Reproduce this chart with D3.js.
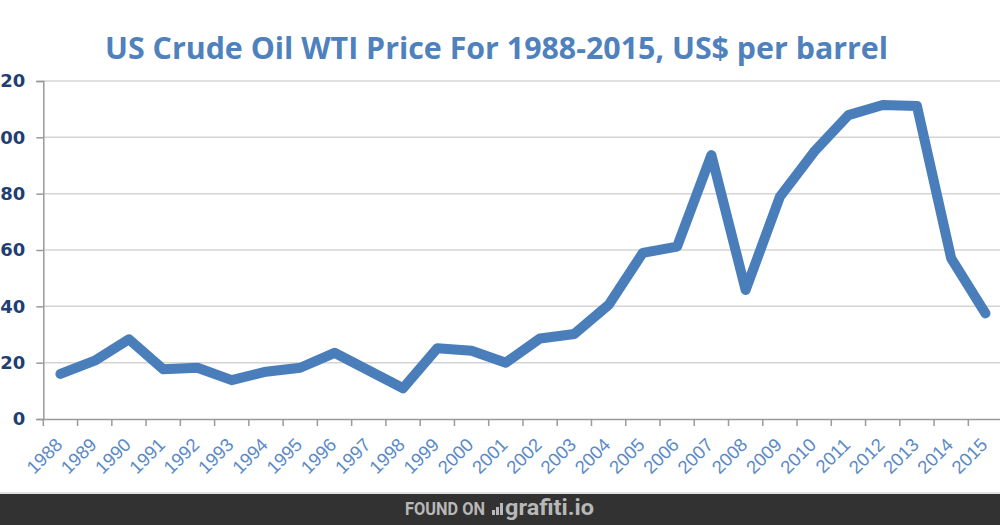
<!DOCTYPE html>
<html>
<head>
<meta charset="utf-8">
<script src="https://cdn.jsdelivr.net/npm/d3@7"></script>
<style>
  html, body { margin: 0; padding: 0; background: #fff; }
  svg { display: block; }
</style>
</head>
<body>
<svg id="chart" width="1000" height="525"></svg>
<script>
const years = ["1988","1989","1990","1991","1992","1993","1994","1995","1996","1997","1998","1999","2000","2001","2002","2003","2004","2005","2006","2007","2008","2009","2010","2011","2012","2013","2014","2015"];
const prices = [16.0, 20.7, 28.3, 17.7, 18.2, 13.8, 16.8, 18.2, 23.5, 17.2, 10.9, 25.1, 24.2, 20.0, 28.6, 30.2, 40.5, 59.0, 61.2, 93.7, 45.8, 78.9, 94.9, 107.9, 111.5, 111.1, 57.0, 37.5];
const yTicks = [0, 20, 40, 60, 80, 100, 120];
const title = "US Crude Oil WTI Price For 1988-2015, US$ per barrel";

const svg = d3.select("#chart");
const plotLeft = 43.3, plotRight = 1002.6, plotTop = 81, plotBottom = 419;

const x = d3.scaleBand().domain(years).range([plotLeft, plotRight]).paddingInner(0).paddingOuter(0);
const y = d3.scaleLinear().domain([0, 120]).range([plotBottom, plotTop]);

// title
svg.append("text")
  .attr("x", 105).attr("y", 59)
  .attr("textLength", 783).attr("lengthAdjust", "spacingAndGlyphs")
  .attr("font-family", "Open Sans, sans-serif").attr("font-weight", "bold")
  .attr("font-size", 30).attr("fill", "#4f81bd")
  .text(title);

// gridlines
svg.append("g").selectAll("line").data(yTicks.filter(d => d > 0)).join("line")
  .attr("x1", plotLeft).attr("x2", 1000)
  .attr("y1", d => y(d)).attr("y2", d => y(d))
  .attr("stroke", "#d4d4d4").attr("stroke-width", 1.5);

// y axis
const yAxis = d3.axisLeft(y).tickValues(yTicks).tickSize(7).tickPadding(11).tickFormat(d3.format("d"));
const gy = svg.append("g").attr("transform", `translate(${plotLeft},0)`).call(yAxis);
gy.select(".domain").attr("stroke", "#9a9a9a").attr("stroke-width", 1.5);
gy.selectAll(".tick line").attr("stroke", "#9a9a9a").attr("stroke-width", 1.5);
gy.selectAll(".tick text")
  .attr("font-family", "DejaVu Sans, Verdana, sans-serif").attr("font-weight", "bold")
  .attr("font-size", 18).attr("fill", "#1f3f73");

// x axis
const xAxis = d3.axisBottom(x).tickSize(0).tickSizeOuter(0);
const gx = svg.append("g").attr("transform", `translate(0,${plotBottom})`).call(xAxis);
gx.select(".domain").attr("stroke", "#9a9a9a").attr("stroke-width", 1.5);
// boundary tick marks between bands
const bounds = years.map(d => x(d)).concat([x(years[years.length - 1]) + x.bandwidth()]);
gx.append("g").selectAll("line").data(bounds).join("line")
  .attr("x1", d => d).attr("x2", d => d).attr("y1", 0).attr("y2", 7)
  .attr("stroke", "#9a9a9a").attr("stroke-width", 1.5);
gx.selectAll(".tick text")
  .attr("font-family", "Liberation Sans, Arial, sans-serif")
  .attr("font-size", 18.5).attr("fill", "#5b8ac6")
  .attr("text-anchor", "end")
  .attr("dy", null).attr("y", 0)
  .attr("transform", "translate(3,27) rotate(-45)");

// line
const line = d3.line().x((d, i) => x(years[i]) + x.bandwidth() / 2).y(d => y(d));
svg.append("path").datum(prices)
  .attr("d", line).attr("fill", "none")
  .attr("stroke", "#4a7ebb").attr("stroke-width", 10)
  .attr("stroke-linejoin", "round").attr("stroke-linecap", "round");

// footer
svg.append("line").attr("x1", 0).attr("x2", 1000).attr("y1", 493).attr("y2", 493)
  .attr("stroke", "#e2e2e2").attr("stroke-width", 2);
svg.append("rect").attr("x", 0).attr("y", 494).attr("width", 1000).attr("height", 31).attr("fill", "#323232");
svg.append("text").attr("x", 405).attr("y", 515)
  .attr("font-family", "Roboto, sans-serif").attr("font-weight", "bold")
  .attr("font-size", 18).attr("fill", "#b8b8b8")
  .attr("textLength", 80).attr("lengthAdjust", "spacingAndGlyphs")
  .text("FOUND ON");
// logo bars
const logoBars = [[492, 510, 3, 5], [496, 507, 3, 8], [500, 503, 3, 12]];
svg.append("g").selectAll("rect").data(logoBars).join("rect")
  .attr("x", d => d[0]).attr("y", d => d[1]).attr("width", d => d[2]).attr("height", d => d[3])
  .attr("fill", "#b8b8b8");
svg.append("text").attr("x", 505).attr("y", 515)
  .attr("font-family", "Roboto, sans-serif").attr("font-weight", "bold")
  .attr("font-size", 22).attr("fill", "#b8b8b8")
  .attr("textLength", 89).attr("lengthAdjust", "spacingAndGlyphs")
  .text("grafiti.io");
</script>
</body>
</html>
